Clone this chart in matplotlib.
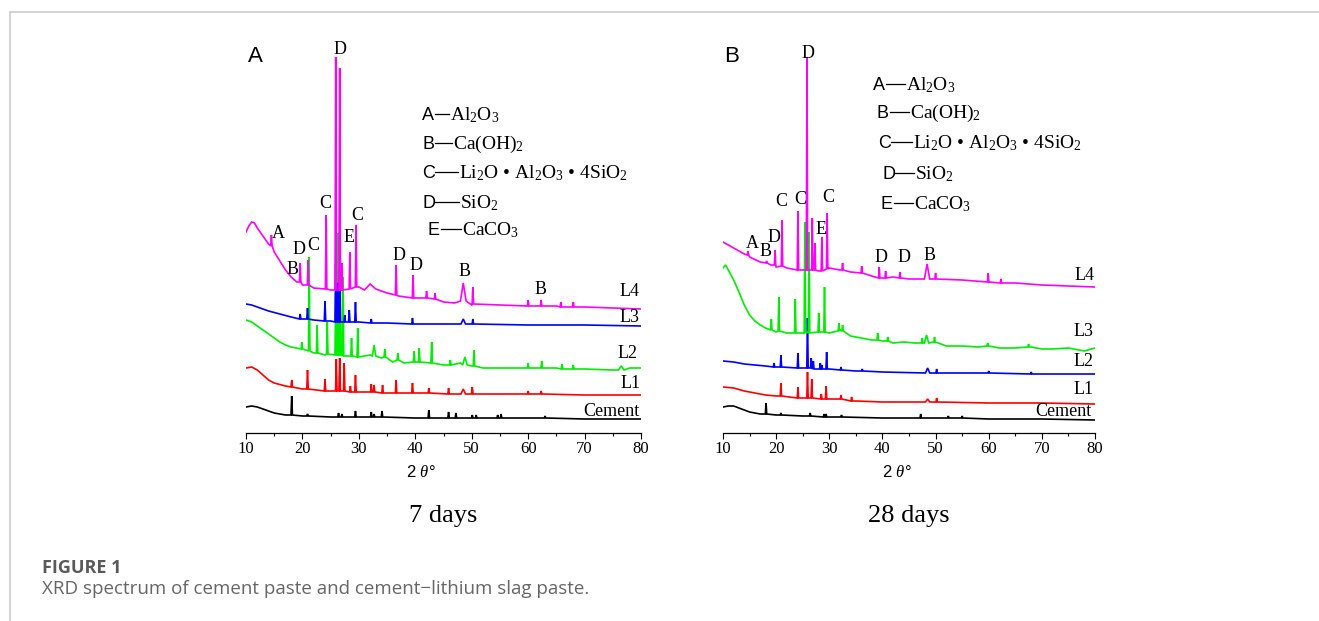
import numpy as np
import matplotlib
matplotlib.use("Agg")
import matplotlib.pyplot as plt
from matplotlib.lines import Line2D

plt.rcParams['mathtext.fontset'] = 'custom'
plt.rcParams['mathtext.rm'] = 'Liberation Serif'
plt.rcParams['mathtext.it'] = 'Liberation Serif:italic'
plt.rcParams['mathtext.sf'] = 'Liberation Sans'
plt.rcParams['font.family'] = 'Liberation Serif'

# ---------------- data (intensity, arbitrary units, curves already offset) -------------
# each curve: baseline points + peaks (position, base, top[, half width])

# 7 days
a_cem_x = [10, 11, 12, 13, 14, 15, 17, 20, 25, 30, 40, 50, 60, 70, 80]
a_cem_y = [26, 27, 26, 24, 22, 20, 18, 17, 16, 16, 15, 15, 15, 14, 14]
a_cem_pk = [(18.1, 18, 37), (20.9, 17, 19), (26.4, 16, 20), (27.0, 16, 19), (29.4, 16, 22),
            (32.2, 16, 21), (32.7, 16, 19), (34.1, 16, 22), (42.4, 15, 23), (45.9, 15, 21),
            (47.2, 15, 20), (50.1, 15, 18), (50.8, 15, 18), (54.6, 15, 18), (55.2, 15, 19),
            (63.0, 15, 17)]

a_l1_x = [10, 11, 12, 13, 14, 15, 17, 20, 25, 30, 35, 40, 50, 60, 70, 80]
a_l1_y = [65, 66, 63, 58, 53, 50, 47, 44, 42, 41, 40, 40, 39, 39, 38, 38]
a_l1_pk = [(18.1, 46, 53), (20.9, 44, 63), (24.0, 42, 54), (26.0, 42, 74), (26.6, 42, 75),
           (27.4, 42, 70), (28.5, 41, 47), (29.4, 41, 58), (32.2, 41, 49), (32.7, 41, 48),
           (34.2, 40, 48), (36.6, 40, 53), (39.5, 40, 50), (42.4, 40, 45), (45.9, 39, 45),
           (48.5, 39, 44, 0.4), (50.1, 39, 46), (60.0, 39, 42), (62.3, 39, 42)]

a_l2_x = [10, 11, 12, 13, 14, 15, 16, 17, 18, 20, 22, 24, 26, 30, 32, 34, 36, 38, 40, 45,
          48, 50, 52, 55, 60, 65, 70, 75, 78, 80]
a_l2_y = [113, 111, 107, 103, 99, 95, 91, 88, 86, 82, 80, 78, 77, 76, 78, 75, 71, 70, 71, 68,
          70, 67, 65, 65, 65, 65, 64, 63, 65, 65]
a_l2_pk = [(19.9, 84, 91), (21.2, 82, 176), (22.6, 80, 108), (24.4, 79, 111), (25.9, 78, 140),
           (26.3, 78, 200), (26.7, 78, 175), (27.2, 77, 156), (28.7, 77, 95), (29.8, 76, 105),
           (32.7, 77, 88, 0.3), (34.6, 76, 84), (36.9, 73, 80), (39.8, 71, 82), (40.7, 71, 85),
           (42.9, 70, 91), (46.2, 68, 73), (48.8, 68, 76, 0.4), (50.4, 67, 83), (60.0, 65, 70),
           (62.4, 65, 72), (66.0, 64, 69), (68.0, 64, 68), (76.5, 63, 67, 0.5)]

a_l3_x = [10, 11, 12, 14, 16, 18, 20, 22, 25, 30, 35, 40, 45, 50, 60, 70, 80]
a_l3_y = [129, 128, 126, 122, 119, 116, 114, 113, 112, 111, 110, 109, 109, 109, 108, 108, 107]
a_l3_pk = [(19.6, 114, 119), (20.9, 114, 125), (24.0, 112, 132), (25.9, 111, 169),
           (26.3, 111, 150), (26.6, 111, 165), (27.5, 111, 118), (28.3, 111, 123),
           (29.4, 111, 131), (32.2, 110, 114), (39.5, 109, 115), (48.5, 109, 114, 0.4),
           (50.2, 109, 114)]

a_l4_x = [10, 10.5, 11, 11.5, 12, 13, 14, 15, 16, 17, 18, 19, 20, 22, 24, 25, 27, 30, 31, 32,
          33, 35, 37, 40, 42, 45, 47, 50, 55, 60, 65, 70, 75, 80]
a_l4_y = [201, 207, 211, 210, 205, 197, 189, 181, 172, 163, 156, 151, 148, 145, 144, 143, 145,
          146, 143, 149, 144, 140, 137, 135, 135, 131, 130, 128, 128, 127, 127, 126, 125, 124]
a_l4_pk = [(14.5, 187, 198), (19.6, 151, 170), (21.0, 148, 173), (24.2, 144, 218),
           (25.9, 143, 376), (26.6, 143, 365), (27.0, 143, 170), (28.4, 144, 181),
           (29.5, 146, 208), (36.6, 138, 168), (39.6, 135, 158), (42.0, 135, 142),
           (43.5, 134, 140), (48.5, 132, 150, 0.5), (50.2, 129, 146), (60.0, 127, 133),
           (62.3, 127, 133), (65.8, 126, 131), (68.0, 126, 131)]

# 28 days
b_cem_x = [10, 11, 12, 13, 14, 15, 17, 20, 25, 30, 40, 50, 60, 70, 80]
b_cem_y = [26, 27, 27, 25, 23, 21, 19, 18, 17, 16, 15, 15, 14, 14, 13]
b_cem_pk = [(18.1, 19, 30), (20.9, 18, 20), (26.4, 17, 20), (29.0, 16, 19), (29.4, 16, 19),
            (32.3, 16, 18), (47.2, 15, 19), (52.4, 15, 17), (55.0, 15, 17)]

b_l1_x = [10, 12, 14, 16, 18, 20, 25, 30, 35, 40, 50, 60, 70, 80]
b_l1_y = [46, 45, 42, 40, 38, 37, 35, 34, 32, 31, 31, 30, 30, 29]
b_l1_pk = [(20.9, 37, 50), (24.1, 35, 46), (25.9, 35, 61), (26.7, 35, 54), (28.5, 34, 39),
           (29.4, 34, 47), (32.2, 34, 38), (34.2, 32, 36), (48.5, 31, 34, 0.4), (50.2, 31, 35)]

b_l2_x = [10, 12, 14, 16, 18, 20, 25, 30, 35, 40, 50, 60, 70, 80]
b_l2_y = [72, 71, 69, 68, 67, 66, 65, 64, 62, 61, 60, 60, 59, 59]
b_l2_pk = [(19.6, 66, 70), (20.9, 66, 78), (24.1, 65, 80), (25.9, 65, 115), (26.6, 65, 75),
           (27.0, 64, 72), (28.3, 64, 70), (28.6, 64, 68), (29.5, 64, 81), (32.2, 63, 66),
           (36.2, 62, 64), (48.5, 60, 65, 0.4), (50.2, 60, 64), (60.0, 60, 62), (68.0, 59, 61)]

b_l3_x = [10, 10.5, 11, 12, 13, 14, 15, 16, 17, 18, 19, 20, 22, 24, 26, 28, 30, 32, 34, 36,
          38, 40, 42, 44, 46, 48, 50, 52, 55, 58, 60, 62, 65, 68, 70, 72, 75, 78, 80]
b_l3_y = [165, 168, 163, 153, 141, 128, 118, 112, 108, 105, 103, 101, 100, 100, 101, 102, 100,
          103, 97, 95, 93, 92, 90, 91, 90, 95, 91, 87, 87, 86, 87, 85, 85, 86, 84, 84, 85, 82, 85]
b_l3_pk = [(19.1, 103, 114), (20.5, 102, 136), (23.6, 100, 134), (25.4, 100, 211),
           (26.2, 100, 201), (28.0, 101, 120), (29.1, 101, 146), (31.8, 102, 110),
           (32.5, 102, 108), (39.1, 93, 100), (41.0, 92, 96), (47.5, 90, 95),
           (48.3, 90, 98, 0.4), (49.8, 91, 96), (59.8, 87, 90), (67.5, 86, 89)]

b_l4_x = [10, 11, 12, 13, 14, 15, 17, 19, 20, 22, 24, 26, 28, 30, 32, 34, 36, 38, 40, 42, 45,
          48, 50, 55, 60, 65, 70, 75, 80]
b_l4_y = [191, 188, 185, 182, 179, 176, 171, 168, 166, 165, 163, 163, 162, 165, 163, 161, 160,
          157, 155, 156, 154, 155, 154, 153, 151, 150, 148, 147, 146]
b_l4_pk = [(14.7, 178, 182), (18.2, 170, 172), (19.8, 168, 183), (21.1, 167, 213),
           (24.1, 163, 222), (25.8, 163, 376), (26.8, 163, 215), (27.3, 163, 190),
           (28.6, 162, 196), (29.6, 164, 220), (32.5, 163, 170), (36.1, 160, 167),
           (39.4, 155, 166), (40.6, 155, 162), (43.3, 155, 161), (48.4, 154, 169, 0.5),
           (50.0, 154, 160), (59.9, 151, 160), (62.3, 150, 154)]

colors_a = ["black", "#ff0000", "#00ee00", "#0000ff", "#ff00ff"]
colors_b = ["black", "#ff0000", "#0000ff", "#00ee00", "#ff00ff"]

# peak letters (x, intensity)
a_marks = [("A", 15.67, 199), ("B", 18.33, 163), ("D", 19.39, 183), ("C", 21.87, 187),
           ("C", 24.0, 230), ("D", 26.66, 383), ("E", 28.25, 196), ("C", 29.67, 218),
           ("D", 37.11, 177), ("D", 40.13, 168), ("B", 48.81, 162), ("B", 62.28, 143)]
b_marks = [("A", 15.46, 190), ("B", 18.09, 182), ("D", 19.6, 196), ("C", 20.91, 232),
           ("C", 24.49, 233), ("D", 26.0, 380), ("E", 28.44, 204), ("C", 29.76, 235),
           ("D", 39.73, 176), ("D", 44.06, 176), ("B", 48.95, 177)]
# curve labels (right edge x, intensity)
a_labels = [("Cement", 79.7, 22), ("L1", 80.0, 49), ("L2", 79.3, 79), ("L3", 79.8, 115),
            ("L4", 79.8, 141)]
b_labels = [("Cement", 79.3, 21), ("L1", 79.8, 43), ("L2", 79.8, 71), ("L3", 79.8, 101),
            ("L4", 80.0, 157)]

phase_letters = ["A", "B", "C", "D", "E"]
phase_formulas = [r"Al$_2$O$_3$", r"Ca(OH)$_2$",
                  "Li$_2$O \u2022 Al$_2$O$_3$ \u2022 4SiO$_2$",
                  r"SiO$_2$", r"CaCO$_3$"]


def trace(bx, by, peaks, hw=0.13):
    """Merge baseline points with sharp peak triangles."""
    xs, ys = [], []
    wins = [(p[0], p[3] if len(p) > 3 else hw) for p in peaks]
    for x, y in zip(bx, by):
        if all(abs(x - c) > w for c, w in wins):
            xs.append(x)
            ys.append(y)
    for p in peaks:
        w = p[3] if len(p) > 3 else hw
        xs += [p[0] - w, p[0], p[0] + w]
        ys += [p[1], p[2], p[1]]
    order = np.argsort(xs, kind="stable")
    return np.array(xs)[order], np.array(ys)[order]


W, H = 1319, 621
fig = plt.figure(figsize=(W / 100, H / 100), dpi=100)


def px(x, y):
    return x / W, 1 - y / H


def setup_axis(left, right):
    ax = fig.add_axes([left / W, (H - 433) / H, (right - left) / W, (433 - 40) / H])
    ax.set_xlim(10, 80)
    ax.set_ylim(0, 393)
    for s in ["left", "right", "top"]:
        ax.spines[s].set_visible(False)
    ax.spines["bottom"].set_linewidth(0.9)
    ax.set_yticks([])
    ax.set_xticks(np.arange(10, 81, 10))
    ax.set_xticks(np.arange(15, 80, 10), minor=True)
    ax.tick_params(axis="x", which="major", direction="out", length=4, width=0.8,
                   labelsize=12, pad=2)
    ax.tick_params(axis="x", which="minor", direction="out", length=2.5, width=0.8)
    for lab in ax.get_xticklabels():
        lab.set_family("Liberation Serif")
    ax.patch.set_alpha(0)
    return ax


panels = [
    dict(left=246, right=641,
         curves=[(a_cem_x, a_cem_y, a_cem_pk), (a_l1_x, a_l1_y, a_l1_pk), (a_l2_x, a_l2_y, a_l2_pk),
                 (a_l3_x, a_l3_y, a_l3_pk), (a_l4_x, a_l4_y, a_l4_pk)],
         cols=colors_a, marks=a_marks, labels=a_labels, tag="A", tag_x=248,
         key_x=[422, 422, 422, 422, 428], key_f=[450, 453, 459, 460, 462],
         key_y=[120, 149, 178, 208, 235], xl_x=421, days="7 days", days_x=443),
    dict(left=723, right=1095,
         curves=[(b_cem_x, b_cem_y, b_cem_pk), (b_l1_x, b_l1_y, b_l1_pk), (b_l2_x, b_l2_y, b_l2_pk),
                 (b_l3_x, b_l3_y, b_l3_pk), (b_l4_x, b_l4_y, b_l4_pk)],
         cols=colors_b, marks=b_marks, labels=b_labels, tag="B", tag_x=724,
         key_x=[873, 877, 878, 882, 881], key_f=[906, 910, 913, 915, 914],
         key_y=[90, 118, 148, 179, 209], xl_x=897, days="28 days", days_x=909),
]

for p in panels:
    ax = setup_axis(p["left"], p["right"])
    for (bx, by, pk), c in zip(p["curves"], p["cols"]):
        x, y = trace(bx, by, pk)
        ax.plot(x, y, color=c, lw=1.2, solid_joinstyle="miter")
    for t, x, y in p["marks"]:
        ax.text(x, y, t, ha="center", va="center", fontsize=13, family="Liberation Serif")
    for t, x, y in p["labels"]:
        ax.text(x, y, t, ha="right", va="center", fontsize=13, family="Liberation Serif")

    # panel tag
    fig.text(*px(p["tag_x"], 62), p["tag"], fontsize=16, family="Liberation Sans",
             va="baseline")

    # phase key: sans letter, a dash, serif formula
    for letter, formula, lx, fx, ly in zip(phase_letters, phase_formulas, p["key_x"],
                                           p["key_f"], p["key_y"]):
        fig.text(*px(lx, ly), letter, fontsize=13, family="Liberation Sans", va="baseline")
        fig.add_artist(Line2D([(lx + 13) / W, (fx - 1) / W], [1 - (ly - 6) / H] * 2,
                              color="black", lw=0.9, transform=fig.transFigure))
        fig.text(*px(fx, ly), formula, fontsize=14, family="Liberation Serif", va="baseline")

    fig.text(*px(p["xl_x"], 472), r"2 $\theta$°", fontsize=12, family="Liberation Sans",
             ha="center", va="center")
    fig.text(*px(p["days_x"], 516), p["days"], fontsize=19, family="Liberation Serif",
             ha="center", va="center")

# frame lines and caption
fig.add_artist(Line2D([9.5 / W, 9.5 / W], [0, 1 - 12 / H], color="#cccccc", lw=1.2,
                      transform=fig.transFigure))
fig.add_artist(Line2D([9.5 / W, 1], [1 - 12 / H, 1 - 12 / H], color="#cccccc", lw=1.2,
                      transform=fig.transFigure))
fig.text(*px(42, 568), "FIGURE 1", fontsize=13, family="Open Sans", weight="bold",
         color="#5a5a5a", va="center")
fig.text(*px(42, 589), "XRD spectrum of cement paste and cement\u2212lithium slag paste.",
         fontsize=13.5, family="Open Sans", color="#666666", va="center")

fig.savefig("out.png", dpi=100)
